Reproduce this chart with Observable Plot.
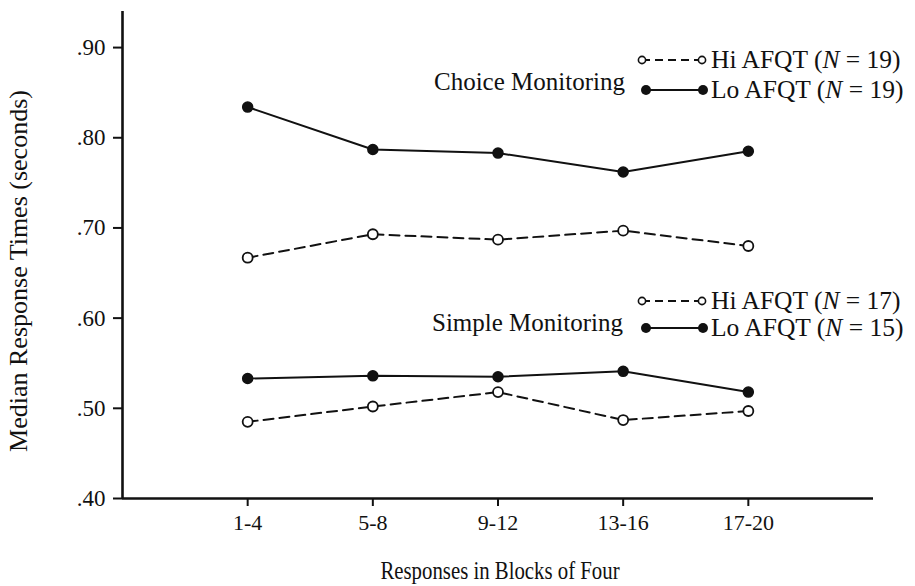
<!DOCTYPE html>
<html><head><meta charset="utf-8">
<script src="https://cdn.jsdelivr.net/npm/d3@7"></script>
<script src="https://cdn.jsdelivr.net/npm/@observablehq/plot@0.6"></script>
<style>
body{margin:0;background:#fff;}
#wrap{position:relative;width:915px;height:586px;font-family:"Liberation Serif","Times New Roman",serif;color:#111;}
.t{position:absolute;white-space:nowrap;line-height:1;}
</style></head><body><div id="wrap"></div>
<script>
// ---- data ----
const blocks = ["1-4", "5-8", "9-12", "13-16", "17-20"];
const choiceHi = [0.667, 0.693, 0.687, 0.697, 0.680];
const choiceLo = [0.834, 0.787, 0.783, 0.762, 0.785];
const simpleHi = [0.485, 0.502, 0.518, 0.487, 0.497];
const simpleLo = [0.533, 0.536, 0.535, 0.541, 0.518];
const yTicks = [0.40, 0.50, 0.60, 0.70, 0.80, 0.90];
const xTitle = "Responses in Blocks of Four";
const yTitle = "Median Response Times (seconds)";

const series = [
  {name: "Choice Hi", group: "Hi", values: choiceHi},
  {name: "Choice Lo", group: "Lo", values: choiceLo},
  {name: "Simple Hi", group: "Hi", values: simpleHi},
  {name: "Simple Lo", group: "Lo", values: simpleLo}
];
const rows = series.flatMap(s => s.values.map((v, i) => ({series: s.name, group: s.group, x: i + 1, y: v})));
const hi = rows.filter(d => d.group === "Hi");
const lo = rows.filter(d => d.group === "Lo");

const fmtY = d => d3.format(".2f")(d).replace(/^0/, "");
const fmtX = i => blocks[i - 1];

const chart = Plot.plot({
  width: 915, height: 586,
  marginLeft: 122, marginRight: 42, marginTop: 11, marginBottom: 88,
  style: {fontFamily: "'Liberation Serif', serif", fontSize: "22px", color: "#111", background: "white"},
  x: {domain: [0, 6]},
  y: {domain: [0.40, 0.94]},
  marks: [
    Plot.axisX({ticks: [1, 2, 3, 4, 5], tickFormat: fmtX, tickSize: 8, tickPadding: 8, strokeWidth: 2, label: null, fontSize: 22}),
    Plot.axisY({ticks: yTicks, tickFormat: fmtY, tickSize: 9, tickPadding: 8, strokeWidth: 2, label: null, fontSize: 23}),
    Plot.ruleX([0], {strokeWidth: 2.6}),
    Plot.ruleY([0.40], {strokeWidth: 2.6}),
    Plot.line(hi, {x: "x", y: "y", z: "series", stroke: "#111", strokeWidth: 2, strokeDasharray: "10,6"}),
    Plot.line(lo, {x: "x", y: "y", z: "series", stroke: "#111", strokeWidth: 2}),
    Plot.dot(hi, {x: "x", y: "y", r: 5, fill: "white", stroke: "#111", strokeWidth: 1.8}),
    Plot.dot(lo, {x: "x", y: "y", r: 5, fill: "#111", stroke: "#111"})
  ]
});
const wrap = document.getElementById("wrap");
wrap.appendChild(chart);

function addText(txt, left, cy, size, extra) {
  const el = document.createElement("div");
  el.className = "t";
  el.innerHTML = txt;
  el.style.left = left + "px";
  el.style.top = (cy - size / 2) + "px";
  el.style.fontSize = size + "px";
  if (extra) Object.assign(el.style, extra);
  wrap.appendChild(el);
  return el;
}
// axis titles
addText(xTitle, 0, 571, 26, {left: "500px", transform: "translateX(-50%) scaleX(0.8)"});
addText(yTitle, 0, 0, 26, {left: "19px", top: "271px", transform: "translate(-50%,-50%) rotate(-90deg)"});

// legends
const legends = [
  {title: "Choice Monitoring", titleX: 434, titleY: 81, hiY: 60, loY: 90, hiLabel: "Hi AFQT (<i>N</i> = 19)", loLabel: "Lo AFQT (<i>N</i> = 19)"},
  {title: "Simple Monitoring", titleX: 432, titleY: 322, hiY: 301, loY: 328, hiLabel: "Hi AFQT (<i>N</i> = 17)", loLabel: "Lo AFQT (<i>N</i> = 15)"}
];
const ns = "http://www.w3.org/2000/svg";
const ov = document.createElementNS(ns, "svg");
ov.setAttribute("width", 915); ov.setAttribute("height", 586);
ov.style.position = "absolute"; ov.style.left = "0"; ov.style.top = "0"; ov.style.pointerEvents = "none";
wrap.appendChild(ov);
function el(tag, attrs) { const e = document.createElementNS(ns, tag); for (const k in attrs) e.setAttribute(k, attrs[k]); ov.appendChild(e); return e; }
for (const L of legends) {
  addText(L.title, L.titleX, L.titleY, 25);
  el("line", {x1: 642, x2: 701, y1: L.hiY, y2: L.hiY, stroke: "#111", "stroke-width": 2, "stroke-dasharray": "8,5"});
  el("circle", {cx: 642, cy: L.hiY, r: 3.6, fill: "white", stroke: "#111", "stroke-width": 1.6});
  el("circle", {cx: 702, cy: L.hiY, r: 3.6, fill: "white", stroke: "#111", "stroke-width": 1.6});
  el("line", {x1: 646, x2: 703, y1: L.loY, y2: L.loY, stroke: "#111", "stroke-width": 2.2});
  el("circle", {cx: 646, cy: L.loY, r: 5, fill: "#111"});
  el("circle", {cx: 703, cy: L.loY, r: 5, fill: "#111"});
  addText(L.hiLabel, 711, L.hiY, 25.5);
  addText(L.loLabel, 711, L.loY, 25.5);
}
</script></body></html>
